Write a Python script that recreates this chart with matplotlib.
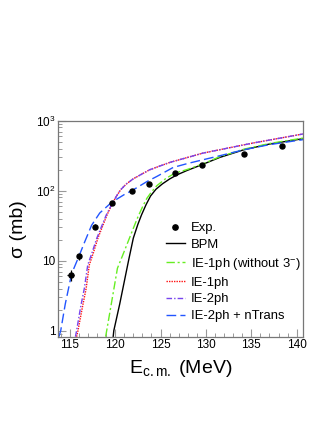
import matplotlib
matplotlib.use("Agg")
import matplotlib.pyplot as plt
from matplotlib.ticker import FixedLocator, FixedFormatter, MultipleLocator, NullFormatter
from matplotlib.lines import Line2D
import numpy as np

plt.rcParams['font.family'] = ['Liberation Sans', 'DejaVu Sans']
plt.rcParams['mathtext.fontset'] = 'custom'
plt.rcParams['mathtext.rm'] = 'Liberation Sans'
plt.rcParams['mathtext.it'] = 'Liberation Sans:italic'

# Experimental data
exp_E = [115.08, 116.03, 117.76, 119.63, 121.87, 123.74, 126.55, 129.55, 134.2, 138.4]
exp_S = [6.2, 11.5, 30.7, 66.5, 99.7, 125.6, 181.5, 235, 334, 429]
exp_xerr = [0.35, 0.2, 0.2, 0.2, 0.2, 0.2, 0.2, 0.2, 0.2, 0.2]
exp_yerr_frac = [0.17, 0.10, 0.08, 0.05, 0.04, 0.04, 0.03, 0.03, 0.03, 0.03]

# BPM
bpm_E = [119.78, 119.85, 120.5, 121.0, 121.5, 122.0, 122.5, 122.9, 123.4, 123.9, 124.5, 125.2, 126.0, 126.8, 127.9, 129.55, 131.5, 134.2, 137.0, 140.7]
bpm_S = [0.82, 1.0, 2.4, 5.0, 10.4, 21, 33, 45, 63, 84, 105, 125, 147, 168, 194, 235, 298, 385, 464, 553]

# IE-1ph (without 3-)
g_E = [118.95, 119.3, 119.7, 120.25, 120.8, 121.4, 122.0, 122.5, 123.1, 123.5, 124.0, 124.6, 125.6, 126.6, 128.0, 129.7, 131.5, 134.2, 137.0, 140.7]
g_S = [0.82, 1.5, 3.0, 7.8, 11.7, 18.4, 29, 42, 62, 78, 96, 118, 150, 178, 202, 242, 305, 392, 472, 565]

# IE-1ph
r_E = [115.75, 115.9, 116.4, 116.8, 117.15, 117.6, 118.1, 118.65, 119.1, 119.6, 120.1, 120.6, 121.2, 122.0, 123.8, 126.0, 129.7, 135.2, 140.7]
r_S = [0.82, 1.0, 2.2, 4.0, 8.7, 13, 21, 32, 45, 62, 82, 103, 124, 148, 199, 253, 345, 480, 646]

# IE-2ph
p_E = [115.62, 115.75, 116.2, 116.6, 116.98, 117.45, 117.98, 118.55, 119.02, 119.58, 120.1, 120.6, 121.2, 122.0, 123.8, 126.0, 129.7, 135.2, 140.7]
p_S = [0.82, 1.0, 2.2, 4.0, 8.7, 13, 21, 32, 45, 62, 82, 103, 124, 148, 199, 253, 345, 480, 646]

# IE-2ph + nTrans
b_E = [113.8, 114.0, 114.5, 115.2, 116.0, 116.6, 117.4, 118.3, 119.6, 121.0, 122.0, 123.5, 124.6, 126.4, 128.0, 129.7, 131.5, 134.2, 137.0, 140.7]
b_S = [0.82, 1.0, 2.4, 6.5, 11.5, 18, 32, 48, 68, 88, 103, 135, 160, 215, 245, 277, 315, 385, 455, 536]

y_ticks = [1, 10, 100, 1000]
y_labels = ['1', '10', r'$10^2$', r'$10^3$']
x_ticks = [115, 120, 125, 130, 135, 140]

fig = plt.figure(figsize=(3.32, 4.30), dpi=100)
ax = fig.add_axes([0.1747, 0.217, 0.738, 0.5023])

ax.set_yscale('log')
ax.set_xlim(113.7, 140.7)
ax.set_ylim(0.82, 1000)

lw = 1.0
ax.errorbar(exp_E, exp_S, xerr=exp_xerr,
            yerr=np.array(exp_S) * np.array(exp_yerr_frac),
            fmt='o', color='black', ms=3.6, elinewidth=0.9, capsize=0, zorder=5)
h_exp = Line2D([], [], ls='none', marker='o', color='black', ms=3.8)
h1, = ax.plot(bpm_E, bpm_S, color='black', lw=lw)
h2, = ax.plot(g_E, g_S, color='#66ee22', lw=lw, ls=(0, (6, 2, 1.5, 2)))
h3, = ax.plot(r_E, r_S, color='#ff1111', lw=lw, ls=(0, (1, 0.8)))
h4, = ax.plot(p_E, p_S, color='#7744ee', lw=lw, ls=(0, (4, 1.5, 1, 1.5)))
h5, = ax.plot(b_E, b_S, color='#2255ff', lw=lw, ls=(0, (7, 3)))

ax.yaxis.set_major_locator(FixedLocator(y_ticks))
ax.yaxis.set_major_formatter(FixedFormatter(y_labels))
ax.yaxis.set_minor_formatter(NullFormatter())
ax.xaxis.set_major_locator(FixedLocator(x_ticks))
ax.xaxis.set_minor_locator(MultipleLocator(1))

spine_c = '#777777'
for s in ax.spines.values():
    s.set_color(spine_c)
    s.set_linewidth(0.9)
ax.tick_params(which='both', direction='in', color='#999999', labelcolor='black', labelsize=8.5)
ax.tick_params(which='major', length=6, width=0.8, pad=2)
ax.tick_params(which='minor', length=3, width=0.7)
ax.tick_params(axis='both', top=False, right=False)

ax.set_xlabel(r'E$_{\mathregular{c.m.}}$ (MeV)', fontsize=14, labelpad=5)
ax.set_ylabel(r'σ (mb)', fontsize=14, labelpad=6)

ax.legend([h_exp, h1, h2, h3, h4, h5],
          ['Exp.', 'BPM', r'IE-1ph (without 3$^{-}$)', 'IE-1ph', 'IE-2ph', 'IE-2ph + nTrans'],
          loc='upper left', bbox_to_anchor=(165.7 / 332, 1 - 222 / 430),
          bbox_transform=fig.transFigure, frameon=False, fontsize=9.4,
          handlelength=1.48, handletextpad=0.43, labelspacing=0.36,
          borderpad=0, borderaxespad=0, numpoints=1)

fig.savefig('out.png', dpi=100)
